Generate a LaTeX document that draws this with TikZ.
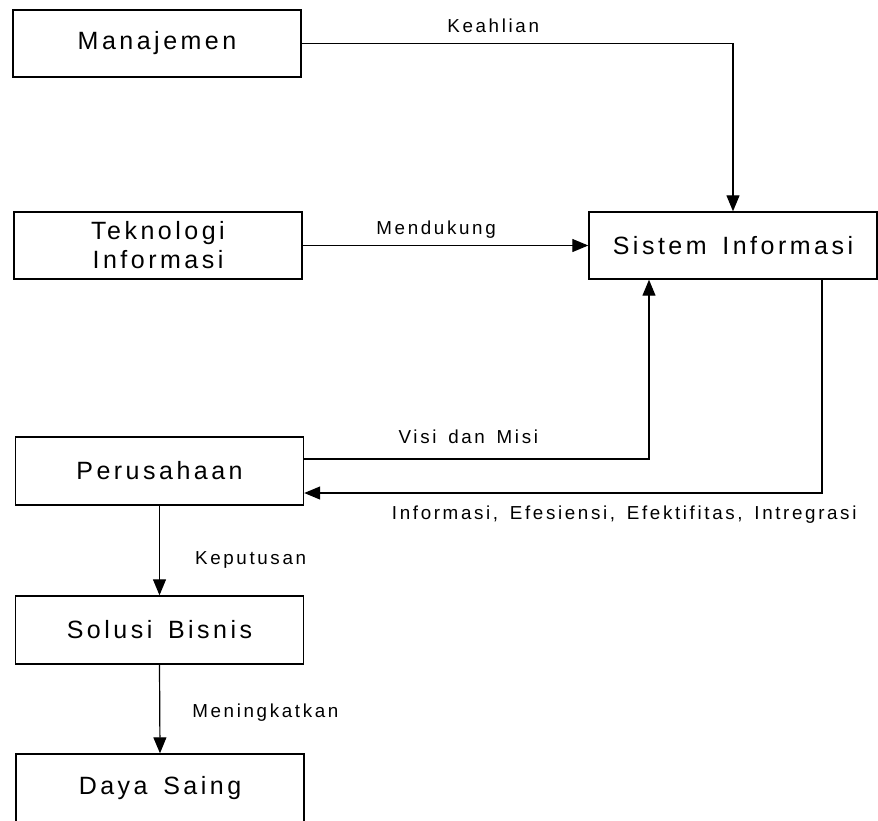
\documentclass[tikz,border=0pt]{standalone}
\usepackage{fontspec}
\setmainfont{Liberation Sans}[LetterSpace=14,WordSpace=1.5]
\usetikzlibrary{arrows.meta}

\begin{document}
\begin{tikzpicture}[x=1pt,y=-1pt,
  kotak/.style={draw,line width=1.4pt,minimum width=288pt,minimum height=67pt,inner sep=0pt,align=center,font=\fontsize{25pt}{29pt}\selectfont},
  ket/.style={inner sep=0pt,text height=13.5pt,text depth=0pt,font=\fontsize{18.8pt}{22pt}\selectfont},
  panah/.style={line width=1.2pt,-{Triangle[length=16pt,width=13pt]}}]

\useasboundingbox (0,0) rectangle (878,820);


\node[kotak] (man) at (157,43.5) {Manajemen};
\node[kotak] (tek) at (158,245.5) {Teknologi\\Informasi};
\node[kotak] (sis) at (733,245.5) {Sistem Informasi};
\node[kotak,minimum height=68pt] (per) at (159.5,471) {Perusahaan};
\node[kotak,minimum height=68pt] (sol) at (159.5,630) {Solusi Bisnis};
\node[kotak,minimum height=68pt] (day) at (160,788) {Daya Saing};


\draw[panah] (man.east) -| (sis.north) node[ket,pos=0.222,above=10pt] {Keahlian};
\draw[panah] (tek.east) -- (sis.west) node[ket,pos=0.467,above=10pt] {Mendukung};

\draw[panah] ([yshift=12pt]per.east) -| ([xshift=-84pt]sis.south) node[ket,pos=0.238,above=15pt] {Visi dan Misi};
\draw[panah] ([xshift=89pt]sis.south) |- ([yshift=-22pt]per.east) node[ket,pos=0.691,below=12pt] {Informasi, Efesiensi, Efektifitas, Intregrasi};

\draw[panah] (per.south) -- (sol.north) node[ket,pos=0.585,right=35pt] {Keputusan};
\draw[panah] (sol.south) -- (day.north) node[ket,pos=0.519,right=32pt] {Meningkatkan};

\end{tikzpicture}
\end{document}
